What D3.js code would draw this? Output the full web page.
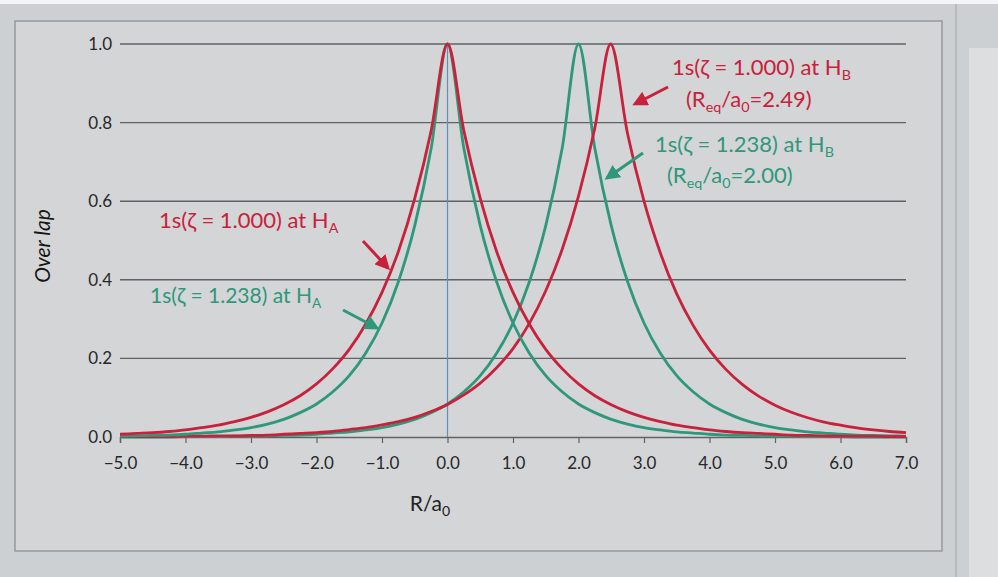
<!DOCTYPE html>
<html><head><meta charset="utf-8">
<script src="https://cdn.jsdelivr.net/npm/d3@7"></script>
<style>
html,body{margin:0;padding:0;background:#cfd1d3;}
svg{display:block;}
text{font-family:Lato,"Open Sans",sans-serif;}
</style></head>
<body>
<svg id="chart" width="998" height="577"></svg>
<script>
// ---- data ----
const R = [-5,-4.75,-4.5,-4.25,-4,-3.75,-3.5,-3.25,-3,-2.75,-2.5,-2.25,-2,-1.75,-1.5,-1.25,-1,-0.75,-0.5,-0.25,
  0,0.25,0.5,0.75,1,1.25,1.5,1.75,2,2.25,2.5,2.75,3,3.25,3.5,3.75,4,4.25,4.5,4.75,5,5.25,5.5,5.75,6,6.25,6.5,6.75,7];
const RB = [-5,-4.75,-4.5,-4.25,-4,-3.75,-3.5,-3.25,-3,-2.75,-2.5,-2.25,-2,-1.75,-1.5,-1.25,-1,-0.75,-0.5,-0.25,
  0,0.25,0.5,0.75,1,1.25,1.5,1.75,2,2.25,2.49,2.75,3,3.25,3.5,3.75,4,4.25,4.5,4.75,5,5.25,5.5,5.75,6,6.25,6.5,6.75,7];
const redA = [0.007,0.009,0.011,0.014,0.018,0.024,0.030,0.039,0.050,0.064,0.082,0.105,0.135,0.174,0.223,0.287,0.368,0.472,0.607,0.779,
  1.000,0.779,0.607,0.472,0.368,0.287,0.223,0.174,0.135,0.105,0.082,0.064,0.050,0.039,0.030,0.024,0.018,0.014,0.011,0.009,0.007,0.005,0.004,0.003,0.002,0.002,0.002,0.001,0.001];
const greenA = [0.002,0.003,0.004,0.005,0.007,0.010,0.013,0.018,0.024,0.033,0.045,0.062,0.084,0.115,0.156,0.213,0.290,0.395,0.538,0.734,
  1.000,0.734,0.538,0.395,0.290,0.213,0.156,0.115,0.084,0.062,0.045,0.033,0.024,0.018,0.013,0.010,0.007,0.005,0.004,0.003,0.002,0.002,0.001,0.001,0.001,0.000,0.000,0.000,0.000];
const greenB = [0.000,0.000,0.000,0.000,0.001,0.001,0.001,0.002,0.002,0.003,0.004,0.005,0.007,0.010,0.013,0.018,0.024,0.033,0.045,0.062,
  0.084,0.115,0.156,0.213,0.290,0.395,0.538,0.734,1.000,0.734,0.538,0.395,0.290,0.213,0.156,0.115,0.084,0.062,0.045,0.033,0.024,0.018,0.013,0.010,0.007,0.005,0.004,0.003,0.002];
const redB = [0.001,0.001,0.001,0.001,0.002,0.002,0.003,0.003,0.004,0.005,0.007,0.009,0.011,0.014,0.019,0.024,0.031,0.039,0.050,0.065,
  0.083,0.107,0.137,0.176,0.225,0.289,0.372,0.477,0.613,0.787,1.000,0.771,0.600,0.468,0.364,0.284,0.221,0.172,0.134,0.104,0.081,0.063,0.049,0.038,0.030,0.023,0.018,0.014,0.011];
const xTicks = [-5,-4,-3,-2,-1,0,1,2,3,4,5,6,7];
const yTicks = [0,0.2,0.4,0.6,0.8,1.0];

const RED = "#c8213c", GREEN = "#2f977a";

const svg = d3.select("#chart");
// background / photographed sheet
svg.append("rect").attr("width",998).attr("height",577).attr("fill","#cdd0d2");
svg.append("rect").attr("width",998).attr("height",4).attr("fill","#f4f5f6");
svg.append("rect").attr("x",969).attr("y",48).attr("width",29).attr("height",529).attr("fill","#dcdedf");
svg.append("line").attr("x1",956).attr("x2",956).attr("y1",4).attr("y2",577).attr("stroke","#a9adb0").attr("stroke-width",1.2);
svg.append("rect").attr("x",15).attr("y",21).attr("width",927).attr("height",530)
  .attr("fill","#d3d5d6").attr("stroke","#8d9194").attr("stroke-width",1.3);

const x = d3.scaleLinear().domain([-5,7]).range([120,906]);
const y = d3.scaleLinear().domain([0,1]).range([437,44]);

// gridlines
svg.append("g").selectAll("line").data(yTicks.filter(d=>d>0)).join("line")
  .attr("x1",x(-5)).attr("x2",x(7)).attr("y1",d=>y(d)).attr("y2",d=>y(d))
  .attr("stroke","#5f6366").attr("stroke-width",1.4);

// y tick labels
svg.append("g").selectAll("text").data(yTicks).join("text")
  .attr("x",112).attr("y",d=>y(d)+6).attr("text-anchor","end")
  .attr("font-size",17).attr("fill","#26282a").text(d=>d.toFixed(1));

// x axis
const xAxis = d3.axisBottom(x).tickValues(xTicks).tickSize(6).tickPadding(14).tickFormat(d3.format(".1f"));
const gx = svg.append("g").attr("transform",`translate(0,${y(0)})`).call(xAxis);
gx.select(".domain").attr("stroke","#5f6366").attr("stroke-width",1.4);
gx.selectAll(".tick line").attr("stroke","#5f6366").attr("stroke-width",1.2);
gx.selectAll(".tick text").attr("font-size",17).attr("fill","#26282a").attr("font-family","Lato,sans-serif");

// vertical blue line at R=0
svg.append("line").attr("x1",x(0)).attr("x2",x(0)).attr("y1",y(1)).attr("y2",y(0))
  .attr("stroke","#5f8fbf").attr("stroke-width",1.2);

// curves
const line = d3.line().x(d=>x(d[0])).y(d=>y(d[1])).curve(d3.curveMonotoneX);
const series = [[R,greenB,GREEN],[RB,redB,RED],[R,greenA,GREEN],[R,redA,RED]];
series.forEach(([rs,vals,c])=>{
  svg.append("path").datum(rs.map((r,i)=>[r,vals[i]]))
    .attr("fill","none").attr("stroke",c).attr("stroke-width",2.8).attr("stroke-linejoin","round")
    .attr("d",line);
});

// axis titles
const xt = svg.append("text").attr("x",430).attr("y",511).attr("text-anchor","middle")
  .attr("font-size",21).attr("fill","#222");
xt.append("tspan").text("R/a");
xt.append("tspan").attr("font-size",14).attr("dy",5).text("0");

svg.append("text").attr("transform","translate(50,246) rotate(-90)").attr("text-anchor","middle")
  .attr("font-size",21).attr("font-style","italic").attr("fill","#151515").text("Over lap");

// annotations
const defs = svg.append("defs");
[["ar",RED],["ag",GREEN]].forEach(([id,c])=>{
  defs.append("marker").attr("id",id).attr("viewBox","0 0 10 10").attr("refX",8).attr("refY",5)
    .attr("markerWidth",5).attr("markerHeight",5).attr("orient","auto")
    .append("path").attr("d","M0,0 L10,5 L0,10 z").attr("fill",c);
});
function label(xp,yp,c,sub,fs){
  const t = svg.append("text").attr("x",xp).attr("y",yp).attr("font-size",fs).attr("fill",c);
  t.append("tspan").text(sub[0]);
  t.append("tspan").attr("font-size",fs*0.65).attr("dy",5).text(sub[1]);
  if(sub.length>2){ t.append("tspan").attr("dy",-5).text(sub[2]); t.append("tspan").attr("font-size",fs*0.65).attr("dy",5).text(sub[3]); t.append("tspan").attr("dy",-5).text(sub[4]); }
  return t;
}
function arrow(x1,y1,x2,y2,id,c){
  svg.append("line").attr("x1",x1).attr("y1",y1).attr("x2",x2).attr("y2",y2)
    .attr("stroke",c).attr("stroke-width",3).attr("marker-end",`url(#${id})`);
}
label(672,75,RED,["1s(ζ = 1.000) at H","B"],22);
label(686,107,RED,["(R","eq","/a","0","=2.49)"],22);
arrow(668,87,635,104,"ar",RED);

label(655,152,GREEN,["1s(ζ = 1.238) at H","B"],22);
label(667,183,GREEN,["(R","eq","/a","0","=2.00)"],22);
arrow(643,153,607,178,"ag",GREEN);

label(159,228,RED,["1s(ζ = 1.000) at H","A"],22);
arrow(363,241,388,268,"ar",RED);

label(150,303,GREEN,["1s(ζ = 1.238) at H","A"],21);
arrow(343,310,377,328,"ag",GREEN);
</script>
</body></html>
